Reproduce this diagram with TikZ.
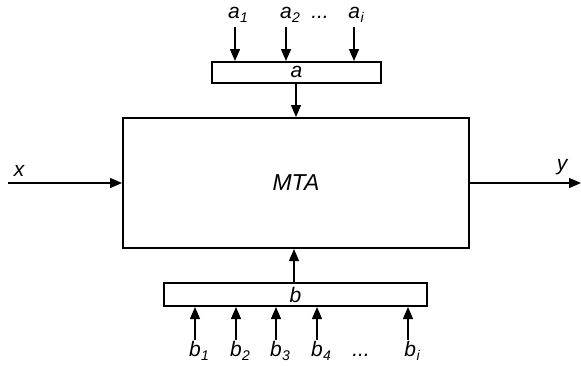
\documentclass[tikz,border=0pt]{standalone}
\usepackage{fontspec}
\setmainfont{Liberation Sans}
\usetikzlibrary{arrows.meta}
\newcommand{\idx}[2]{#1\kern0.5pt\raisebox{-0.4ex}{\fontsize{14}{14}\selectfont #2}}
\begin{document}
\begin{tikzpicture}[x=1pt,y=-1pt,
  frame/.style={draw,line width=2pt,inner sep=0pt},
  sig/.style={line width=1.3pt,-{Triangle[length=12pt,width=10pt]}},
  lbl/.style={font=\fontsize{21}{21}\selectfont\itshape,inner sep=0pt}]
\useasboundingbox (0,0) rectangle (581,365);
% blocks
\node[frame,minimum width=346pt,minimum height=130pt] (mta) at (296,183) {};
\node[lbl,font=\fontsize{23}{23}\selectfont\itshape] at (mta.center) {MTA};
\node[frame,minimum width=169pt,minimum height=21pt] (a) at (296.5,72) {};
\node[lbl] at (a.center) {a};
\node[frame,minimum width=263pt,minimum height=23pt] (b) at (295.5,294.5) {};
\node[lbl] at (b.center) {b};
% a inputs
\coordinate (a1s) at (235,27); \coordinate (a1e) at (235,61);
\coordinate (a2s) at (286,27); \coordinate (a2e) at (286,61);
\coordinate (ais) at (354,27); \coordinate (aie) at (354,61);
\draw[sig] (a1s) -- (a1e);
\draw[sig] (a2s) -- (a2e);
\draw[sig] (ais) -- (aie);
\node[lbl] (la1) at (238,15) {\idx{a}{1}};
\node[lbl] (la2) at (290,15) {\idx{a}{2}};
\node[lbl] (ladots) at (320,17) {...};
\node[lbl] (lai) at (356,15) {\idx{a}{i}};
% block connections
\draw[sig] (a.south -| 296,0) -- (mta.north -| 296,0);
\draw[sig] (b.north -| 294,0) -- (mta.south -| 294,0);
% b inputs
\foreach \n/\xx in {1/195,2/236,3/276,4/317,i/408}{
  \coordinate (b\n s) at (\xx,340);
  \draw[sig] (b\n s) -- (b.south -| \xx,0);
  \node[lbl] (lb\n) at (\xx+4,351) {\idx{b}{\n}};
}
\node[lbl] (lbdots) at (361,355) {...};
% x and y
\coordinate (xs) at (8,183);
\coordinate (ye) at (581,183);
\draw[sig] (xs) -- (mta.west);
\draw[sig] (mta.east) -- (ye);
\node[lbl] (lx) at (19,171) {x};
\node[lbl] (ly) at (562,167) {y};
\end{tikzpicture}
\end{document}
